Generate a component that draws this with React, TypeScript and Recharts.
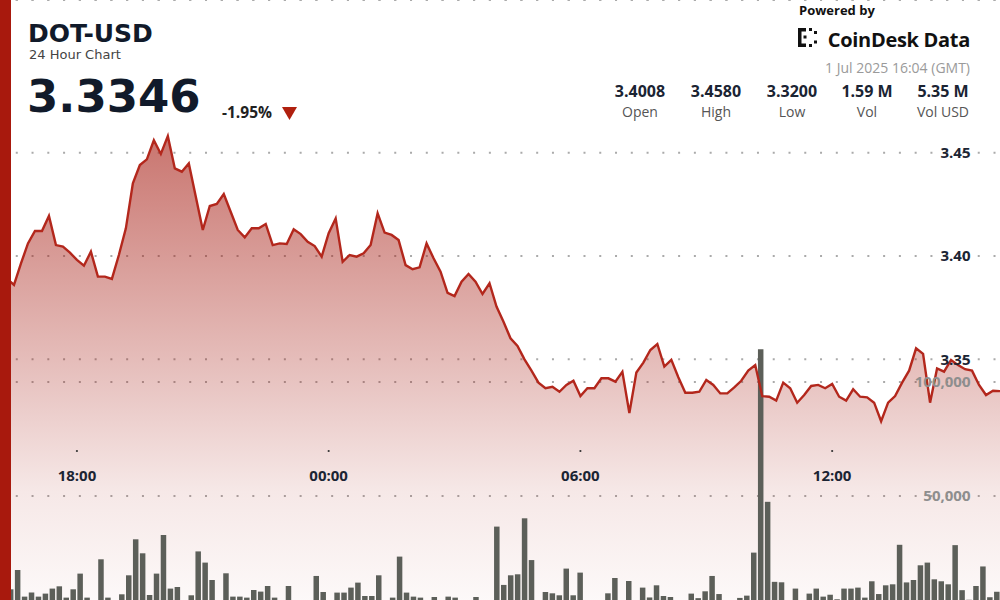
import React from 'react';
import { ComposedChart, Area, Bar, Line, XAxis, YAxis, CartesianGrid } from 'recharts';

// 10-minute points, 16:10 yesterday .. 16:00 today
const prices = [
  3.3920, 3.3890, 3.3860, 3.3964, 3.4061, 3.4121, 3.4121, 3.4194, 3.4053, 3.4045,
  3.4016, 3.3981, 3.3953, 3.4021, 3.3900, 3.3900, 3.3889, 3.4005, 3.4134, 3.4352,
  3.4440, 3.4468, 3.4560, 3.4494, 3.4580, 3.4424, 3.4408, 3.4448, 3.4287, 3.4126,
  3.4242, 3.4252, 3.4300, 3.4213, 3.4126, 3.4090, 3.4134, 3.4134, 3.4155, 3.4053,
  3.4061, 3.4058, 3.4129, 3.4106, 3.4069, 3.4048, 3.3997, 3.4110, 3.4182, 3.3972,
  3.4005, 3.3997, 3.4013, 3.4053, 3.4207, 3.4113, 3.4102, 3.4077, 3.3956, 3.3936,
  3.3945, 3.4061, 3.3989, 3.3924, 3.3822, 3.3806, 3.3876, 3.3913, 3.3876, 3.3816,
  3.3868, 3.3755, 3.3682, 3.3602, 3.3565, 3.3500, 3.3445, 3.3387, 3.3360, 3.3367,
  3.3343, 3.3376, 3.3396, 3.3322, 3.3360, 3.3360, 3.3408, 3.3408, 3.3392, 3.3440,
  3.3240, 3.3436, 3.3484, 3.3545, 3.3574, 3.3465, 3.3497, 3.3413, 3.3338, 3.3338,
  3.3343, 3.3400, 3.3376, 3.3335, 3.3335, 3.3364, 3.3396, 3.3445, 3.3472, 3.3322,
  3.3319, 3.3300, 3.3387, 3.3360, 3.3290, 3.3327, 3.3371, 3.3376, 3.3360, 3.3381,
  3.3319, 3.3300, 3.3355, 3.3319, 3.3316, 3.3290, 3.3200, 3.3290, 3.3322, 3.3387,
  3.3445, 3.3553, 3.3526, 3.3290, 3.3456, 3.3440, 3.3497, 3.3472, 3.3452, 3.3445,
  3.3376, 3.3327, 3.3348, 3.3346,
];

const volumes = [
  6000, 9080, 17540, 5870, 7630, 5870, 7190, 9390, 10390, 5430,
  9080, 15960, 5430, 2500, 22240, 5430, 2500, 6890, 15220, 31010,
  24870, 6580, 15960, 32900, 9390, 10090, 2500, 6450, 25700, 20790,
  13160, 2500, 16100, 5870, 5870, 5430, 8780, 8070, 10530, 5430,
  2500, 10530, 2500, 2000, 2500, 14930, 7900, 2500, 7630, 7630,
  9820, 12010, 6140, 6140, 15220, 2500, 5430, 23420, 7630, 5870,
  5430, 2500, 5700, 3000, 5870, 5430, 2500, 3000, 5700, 2500,
  3000, 36580, 11000, 15220, 15660, 40220, 21900, 3000, 7900, 7320,
  6450, 18160, 6450, 16400, 3000, 2500, 3500, 7320, 14040, 3000,
  12720, 3000, 9820, 5500, 10830, 6140, 5700, 2500, 3000, 7190,
  5200, 8200, 14930, 7000, 2500, 3000, 5300, 6300, 25170, 114350,
  47450, 12350, 12150, 3000, 9390, 3500, 7190, 9390, 5870, 6700,
  4700, 9390, 9390, 9820, 5430, 12600, 7000, 10830, 11270, 28600,
  12100, 13160, 19610, 20790, 13460, 12600, 11270, 28450, 8700, 4500,
  10530, 19100, 5600, 8000,
];

const timeTicks = [11, 47, 83, 119];
const timeLabels = ['18:00', '00:00', '06:00', '12:00'];
const priceTicks = [3.35, 3.4, 3.45];
const volumeTicks = [50000, 100000];

const statValues = ['3.4008', '3.4580', '3.3200', '1.59 M', '5.35 M'];
const statLabels = ['Open', 'High', 'Low', 'Vol', 'Vol USD'];
const statCenters = [640, 716, 792, 867, 943];

const rows = prices.map((price, i) => ({ i, price, vol: volumes[i] }));

const NAVY = '#1b2433';
const OPEN = '"Open Sans", sans-serif';
const DEJAVU = '"DejaVu Sans", sans-serif';

const TimeTick = (props: any) => {
  const { x, payload } = props;
  const label = timeLabels[timeTicks.indexOf(payload.value)];
  return (
    <g>
      <circle cx={x} cy={451} r={1.1} fill="#333" />
      <text x={x} y={480.5} textAnchor="middle" fontFamily={OPEN} fontWeight={700} fontSize={15} fill={NAVY}>
        {label}
      </text>
    </g>
  );
};

const PriceTick = (props: any) => {
  const { y, payload } = props;
  return (
    <text x={970.5} y={y + 5.4} textAnchor="end" fontFamily={OPEN} fontWeight={700} fontSize={15} fill={NAVY}>
      {Number(payload.value).toFixed(2)}
    </text>
  );
};

const VolumeTick = (props: any) => {
  const { y, payload } = props;
  return (
    <text x={970.5} y={y + 5.4} textAnchor="end" fontFamily={OPEN} fontWeight={700} fontSize={15} fill="#8e8e8e">
      {Number(payload.value).toLocaleString('en-US')}
    </text>
  );
};

const Header = () => (
  <svg width={1000} height={130} style={{ position: 'absolute', left: 0, top: 0, pointerEvents: 'none' }}>
    <text x={28} y={42} fontFamily={DEJAVU} fontWeight={700} fontSize={25} fill="#111a2a">DOT-USD</text>
    <text x={29} y={59} fontFamily={DEJAVU} fontSize={13} fill="#444">24 Hour Chart</text>
    <text x={27} y={112} fontFamily={DEJAVU} fontWeight={700} fontSize={45} fill="#111a2a">3.3346</text>
    <text x={222} y={118} fontFamily={OPEN} fontWeight={700} fontSize={15.5} fill="#222">-1.95%</text>
    <polygon points="282,107 297,107 289.5,120" fill="#b0200f" />

    <text x={799} y={15} fontFamily={OPEN} fontWeight={700} fontSize={13} fill="#111">Powered by</text>
    <g fill="#111">
      <rect x={798} y={28} width={3.5} height={19} />
      <rect x={798} y={28} width={8} height={3.5} />
      <rect x={798} y={43.5} width={8} height={3.5} />
      <rect x={803.5} y={35.5} width={3} height={3} />
      <rect x={809} y={28} width={3} height={3} />
      <rect x={809} y={44} width={3} height={3} />
      <rect x={814} y={31} width={3} height={3} />
      <rect x={814} y={40.5} width={3} height={3} />
    </g>
    <text x={970} y={46.5} textAnchor="end" fontFamily={OPEN} fontWeight={700} fontSize={20} letterSpacing={-0.3} fill="#111">
      CoinDesk Data
    </text>
    <text x={970} y={72.5} textAnchor="end" fontFamily={OPEN} fontSize={14} fill="#9a9a9a">1 Jul 2025 16:04 (GMT)</text>

    {statValues.map((v, k) => (
      <text key={v} x={statCenters[k]} y={96.5} textAnchor="middle" fontFamily={OPEN} fontWeight={700} fontSize={16} fill={NAVY}>
        {v}
      </text>
    ))}
    {statLabels.map((l, k) => (
      <text key={l} x={statCenters[k]} y={116.5} textAnchor="middle" fontFamily={OPEN} fontSize={14} fill="#555">
        {l}
      </text>
    ))}
  </svg>
);

export default function App() {
  return (
    <div style={{ position: 'relative', width: 1000, height: 600, overflow: 'hidden', background: '#fff' }}>
      <style>{'body{margin:0}'}</style>
      <ComposedChart width={1000} height={611} data={rows} margin={{ top: 0, right: 0, bottom: 0, left: 0 }}>
        <defs>
          <linearGradient id="priceFill" x1="0" y1="0" x2="0" y2="1">
            <stop offset="0%" stopColor="#a5190f" stopOpacity={0.6} />
            <stop offset="50%" stopColor="#a5190f" stopOpacity={0.27} />
            <stop offset="75%" stopColor="#a5190f" stopOpacity={0.1} />
            <stop offset="100%" stopColor="#a5190f" stopOpacity={0.02} />
          </linearGradient>
        </defs>
        <XAxis
          xAxisId="p"
          dataKey="i"
          type="number"
          domain={[0, 143]}
          ticks={timeTicks}
          interval={0}
          tick={TimeTick}
          axisLine={false}
          tickLine={false}
          height={1}
        />
        <XAxis xAxisId="v" dataKey="i" type="number" domain={[-0.5, 143.5]} hide />
        <YAxis
          yAxisId="p"
          type="number"
          domain={[3.22866, 3.52391]}
          allowDataOverflow
          ticks={priceTicks}
          interval={0}
          orientation="right"
          mirror
          width={40}
          axisLine={false}
          tickLine={false}
          tick={PriceTick}
        />
        <YAxis
          yAxisId="v"
          type="number"
          domain={[0, 267544]}
          allowDataOverflow
          ticks={volumeTicks}
          interval={0}
          orientation="right"
          mirror
          width={40}
          axisLine={false}
          tickLine={false}
          tick={VolumeTick}
        />
        <CartesianGrid xAxisId="p" yAxisId="p" vertical={false} stroke="#aaa" strokeWidth={2} strokeDasharray="2 13.77" />
        <CartesianGrid xAxisId="p" yAxisId="v" vertical={false} stroke="#aaa" strokeWidth={2} strokeDasharray="2 13.77" />
        <Area
          xAxisId="p"
          yAxisId="p"
          type="linear"
          dataKey="price"
          stroke="none"
          fill="url(#priceFill)"
          fillOpacity={1}
          isAnimationActive={false}
        />
        <Bar xAxisId="v" yAxisId="v" dataKey="vol" fill="#5c5f59" barSize={5.5} isAnimationActive={false} />
        <Line
          xAxisId="p"
          yAxisId="p"
          type="linear"
          dataKey="price"
          stroke="#b3271c"
          strokeWidth={2.4}
          dot={false}
          activeDot={false}
          isAnimationActive={false}
        />
      </ComposedChart>
      <div style={{ position: 'absolute', left: 0, top: 0, width: 11, height: 600, background: '#a8190d' }} />
      <Header />
    </div>
  );
}
